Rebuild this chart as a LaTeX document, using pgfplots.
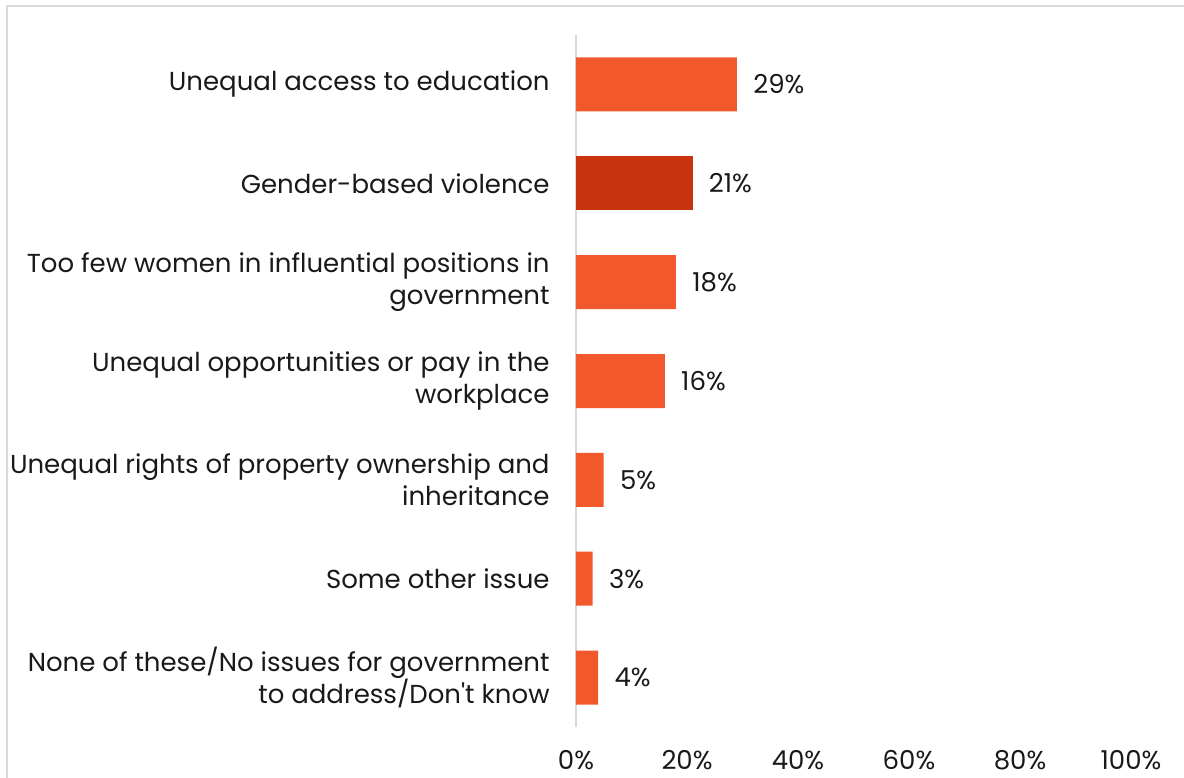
\documentclass[border=0pt]{standalone}
\usepackage{pgfplots}
\pgfplotsset{compat=1.18}
\usepackage{fontspec}
\setmainfont{Poppins}
\definecolor{barA}{HTML}{F1582B}
\definecolor{barB}{HTML}{C8340D}
\definecolor{frame}{HTML}{D9D9D9}
\begin{document}
\begin{tikzpicture}
\useasboundingbox (0,0) rectangle (592pt,388.5pt);
\draw[frame, line width=0.8pt] (3.5pt,-5pt) -- (3.5pt,385.5pt) -- (600pt,385.5pt);
\begin{axis}[
  at={(288pt,25pt)}, anchor=south west,
  scale only axis,
  width=277.5pt, height=346pt,
  xbar, bar width=27pt, bar shift=0pt,
  xmin=0, xmax=100,
  ymin=-0.5, ymax=6.5,
  y dir=reverse,
  axis x line=none,
  axis y line*=left,
  axis line style={draw=frame, line width=0.8pt, -},
  major tick length=0pt,
  ytick={0,1,2,3,4,5,6},
  yticklabels={
    {Unequal access to education},
    {Gender-based violence},
    {Too few women in influential positions in\\government},
    {Unequal opportunities or pay in the\\workplace},
    {Unequal rights of property ownership and\\inheritance},
    {Some other issue},
    {None of these/No issues for government\\to address/Don\textquotesingle t know}},
  yticklabel style={align=right, inner sep=0pt, xshift=-13pt, font=\fontsize{13pt}{16pt}\selectfont, text=black!90},
  /pgf/number format/assume math mode=true,
  nodes near coords={\pgfmathprintnumber{\pgfplotspointmeta}\%},
  nodes near coords style={anchor=west, inner sep=0pt, xshift=8pt, font=\fontsize{13pt}{16pt}\selectfont, text=black!90},
  clip=false,
]
\addplot[fill=barA, draw=none] coordinates {(29,0) (18,2) (16,3) (5,4) (3,5) (4,6)};
\addplot[fill=barB, draw=none] coordinates {(21,1)};
\end{axis}
\begin{axis}[
  at={(288pt,25pt)}, anchor=south west,
  scale only axis,
  width=277.5pt, height=346pt,
  xmin=0, xmax=100, ymin=0, ymax=1,
  axis x line*=bottom, axis y line=none,
  axis line style={draw=none},
  major tick length=0pt,
  xtick={0,20,40,60,80,100},
  xticklabels={0\%,20\%,40\%,60\%,80\%,100\%},
  ytick=\empty,
  xticklabel style={inner sep=0pt, anchor=center, yshift=-16.5pt, font=\fontsize{13pt}{16pt}\selectfont, text=black!90},
]
\addplot[draw=none] coordinates {(0,0)};
\end{axis}
\end{tikzpicture}
\end{document}
